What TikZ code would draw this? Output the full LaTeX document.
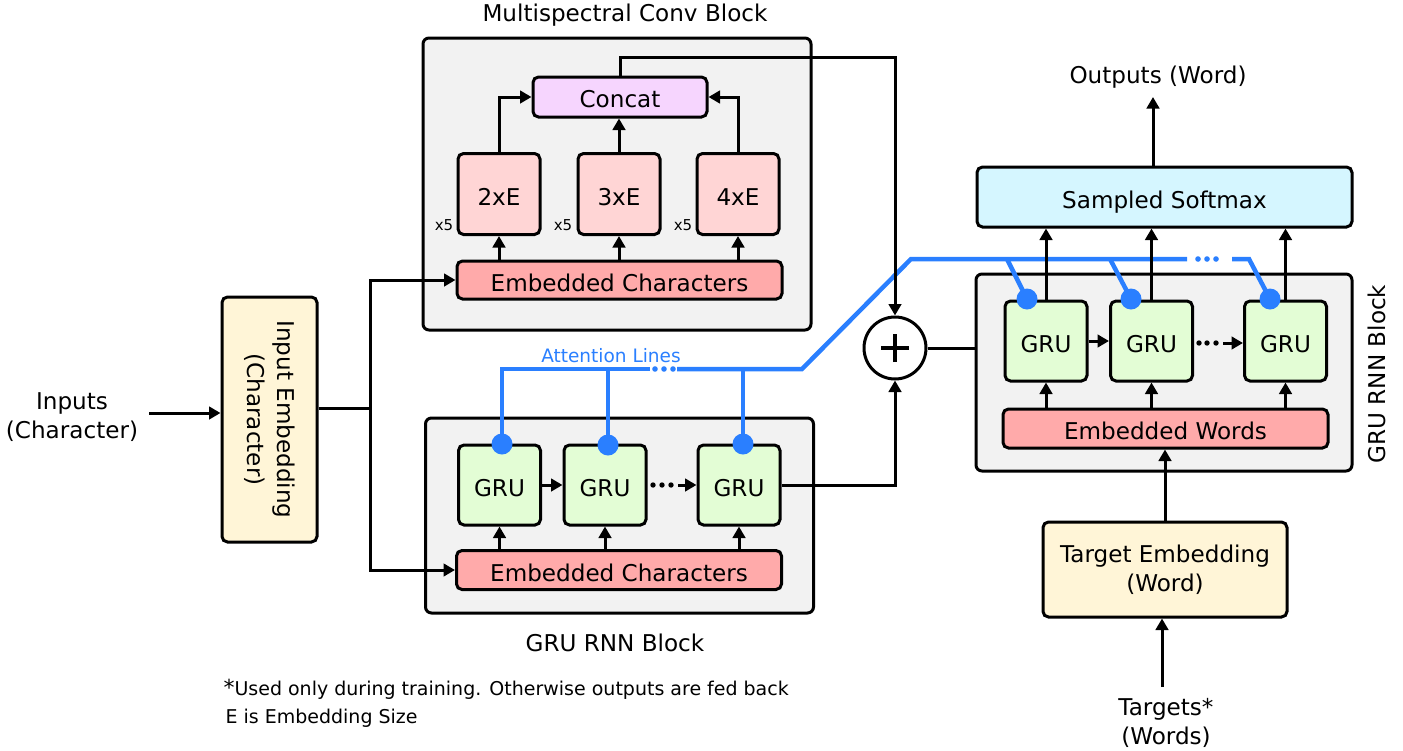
\documentclass[tikz,border=0pt]{standalone}
\usepackage{fontspec}
\setmainfont{DejaVu Sans}
\usetikzlibrary{arrows.meta}
\definecolor{blkfill}{HTML}{F2F2F2}
\definecolor{concfill}{HTML}{F6D5FE}
\definecolor{convfill}{HTML}{FFD5D5}
\definecolor{embfill}{HTML}{FFAAAA}
\definecolor{grufill}{HTML}{E3FDD5}
\definecolor{softfill}{HTML}{D5F6FF}
\definecolor{yelfill}{HTML}{FFF5D7}
\definecolor{attcol}{HTML}{2A7FFF}
\begin{document}
\begin{tikzpicture}[x=1pt,y=-1pt,
  font=\fontsize{23.1}{29.5}\selectfont,
  box/.style={draw=black, line width=3pt, rounded corners=5.5pt, inner sep=0pt, align=center},
  onebox/.style={box, text height=22pt, text depth=0pt},
  blockbox/.style={box, fill=blkfill, rounded corners=6pt},
  convbox/.style={onebox, fill=convfill, minimum width=82pt, minimum height=81pt},
  grubox/.style={onebox, fill=grufill, minimum width=82pt, minimum height=80pt},
  embbox/.style={onebox, fill=embfill, minimum width=325pt, minimum height=38pt},
  arr/.style={line width=3pt, -{Triangle[length=11.5pt,width=12.5pt]}},
  ln/.style={line width=3pt},
  attn/.style={draw=attcol, line width=4.5pt},
  attdot/.style={circle, fill=attcol, inner sep=0pt, minimum size=21pt},
  smalltxt/.style={font=\fontsize{15}{18}\selectfont},
  notetxt/.style={font=\fontsize{19}{22}\selectfont, anchor=west},
  ]
\useasboundingbox (0,0) rectangle (1403,750);

% ---------- blocks ----------
\node[blockbox, minimum width=388pt, minimum height=292pt] (convblk) at (617,184) {};
\node[blockbox, minimum width=388pt, minimum height=195pt] (rnnblk) at (619.5,515.5) {};
\node[blockbox, minimum width=376pt, minimum height=197pt] (rblk) at (1164,372.5) {};

% ---------- titles ----------
\node (t1) at (625,15) {Multispectral Conv Block};
\node (t2) at (615,643) {GRU RNN Block};
\node[rotate=90] (t3) at (1377,374) {GRU RNN Block};

% ---------- conv block ----------
\node[onebox, fill=concfill, minimum width=174pt, minimum height=40pt, text height=20pt] (concat) at (620,97) {Concat};
\node[convbox] (c2) at (499,194) {2xE};
\node[convbox] (c3) at (619,194) {3xE};
\node[convbox] (c4) at (738,194) {4xE};
\node[smalltxt] (x1) at (444,225) {x5};
\node[smalltxt] (x2) at (563,225) {x5};
\node[smalltxt] (x3) at (683,225) {x5};
\node[embbox] (embc1) at (619.5,280) {Embedded Characters};

% ---------- left GRU block ----------
\node[grubox] (g1) at (499.5,485) {GRU};
\node[grubox] (g2) at (605,485) {GRU};
\node[grubox] (g3) at (739,485) {GRU};
\node[embbox, minimum height=39pt] (embc2) at (619,570) {Embedded Characters};

% ---------- input ----------
\node[align=center] (inp) at (72,417) {Inputs\\(Character)};
\node[box, fill=yelfill, minimum width=95pt, minimum height=245pt,
      label={[rotate=-90, align=center]center:Input Embedding\\(Character)}] (inemb) at (269.5,419.5) {};

% ---------- sum ----------
\node[circle, draw=black, fill=white, line width=3pt, minimum size=62pt, inner sep=0pt] (plus) at (895,348) {};
\draw[line width=3.5pt] ([xshift=-14pt]plus.center) -- ([xshift=14pt]plus.center);
\draw[line width=3.5pt] ([yshift=-14pt]plus.center) -- ([yshift=14pt]plus.center);

% ---------- right decoder ----------
\node[onebox, fill=softfill, minimum width=375pt, minimum height=60pt] (soft) at (1164.5,197) {Sampled Softmax};
\node[grubox] (ga) at (1046,341) {GRU};
\node[grubox] (gb) at (1151.5,341) {GRU};
\node[grubox] (gc) at (1285.5,341) {GRU};
\node[embbox, minimum height=39pt] (embw) at (1165.5,428.5) {Embedded Words};
\node[box, fill=yelfill, minimum width=244pt, minimum height=95pt] (tgemb) at (1165,569.5) {Target Embedding\\(Word)};
\node (outp) at (1158,77) {Outputs (Word)};
\node[align=center] (targ) at (1166,723) {Targets*\\(Words)};

% ---------- notes ----------
\node[notetxt] (n1) at (220,689) {{\fontsize{22}{22}\selectfont *}Used only during training. Otherwise outputs are fed back};
\node[notetxt] (n2) at (222,718) {E is Embedding Size};

% ---------- attention lines ----------
\node[attdot] (d1) at (502,444) {};
\node[attdot] (d2) at (608,445) {};
\node[attdot] (d3) at (743,444) {};
\node[attdot] (da) at (1027,299) {};
\node[attdot] (db) at (1131,299) {};
\node[attdot] (dc) at (1270,299) {};
\coordinate (al) at (502,369);
\coordinate (ac) at (802,369);
\coordinate (ar) at (911,259);
\draw[attn] (d1.center) -- (al) -- (650,369);
\draw[attn] (d2.center) -- (d2.center |- al);
\draw[attn] (d3.center) -- (d3.center |- al);
\draw[attn] (677,369) -- (ac) -- (ar) -- (1187,259);
\draw[attn] (1232,259) -- (1249,259) -- (dc.center);
\draw[attn] (1007,259) -- (da.center);
\draw[attn] (1110,259) -- (db.center);
\foreach \xx in {655,664,673} \fill[attcol] (\xx,369) circle (2.8pt);
\foreach \xx in {1198,1207,1216} \fill[attcol] (\xx,259) circle (2.8pt);
\node[text=attcol, font=\fontsize{18.5}{22}\selectfont] (attl) at (611,356) {Attention Lines};

% ---------- connectors: conv block ----------
\draw[arr] (embc1.north -| c2) -- (c2.south);
\draw[arr] (embc1.north -| c3) -- (c3.south);
\draw[arr] (embc1.north -| c4) -- (c4.south);
\draw[arr] (c2.north) |- (concat.west);
\draw[arr] (c3.north) -- (c3.north |- concat.south);
\draw[arr] (c4.north) |- (concat.east);
\coordinate (ctop) at (620,57);
\draw[arr] (concat.north) -- (ctop) -| (plus.north);

% ---------- connectors: left GRU block ----------
\draw[arr] (embc2.north -| g1) -- (g1.south);
\draw[arr] (embc2.north -| g2) -- (g2.south);
\draw[arr] (embc2.north -| g3) -- (g3.south);
\draw[arr] (g1.east) -- (g2.west);
\foreach \xx in {653,662,671} \fill (\xx,485) circle (2.7pt);
\coordinate (gd1) at (678,485);
\draw[arr] (gd1) -- (g3.west);
\draw[arr] (g3.east) -| (plus.south);

% ---------- connectors: input ----------
\coordinate (inarr) at (149,413);
\draw[arr] (inarr) -- (inarr -| inemb.west);
\coordinate (split) at (370,408);
\draw[ln] (inemb.east |- split) -- (split);
\draw[arr] (split) |- (embc1.west);
\draw[arr] (split) |- (embc2.west);

% ---------- connectors: right decoder ----------
\draw[ln] (plus.east) -- (plus.east -| rblk.west);
\draw[arr] (ga.north) -- (ga.north |- soft.south);
\draw[arr] (gb.north) -- (gb.north |- soft.south);
\draw[arr] (gc.north) -- (gc.north |- soft.south);
\draw[arr] (embw.north -| ga) -- (ga.south);
\draw[arr] (embw.north -| gb) -- (gb.south);
\draw[arr] (embw.north -| gc) -- (gc.south);
\draw[arr] (ga.east) -- (gb.west);
\foreach \xx in {1199,1207,1216} \fill (\xx,343) circle (2.7pt);
\coordinate (gd2) at (1223,343);
\draw[arr] (gd2) -- (gd2 -| gc.west);
\draw[arr] (tgemb.north) -- (tgemb.north |- embw.south);
\coordinate (tin) at (1162,687);
\draw[arr] (tin) -- (tin |- tgemb.south);
\coordinate (sout) at (1153,167);
\draw[arr] (sout) -- (1153,97);
\end{tikzpicture}
\end{document}
